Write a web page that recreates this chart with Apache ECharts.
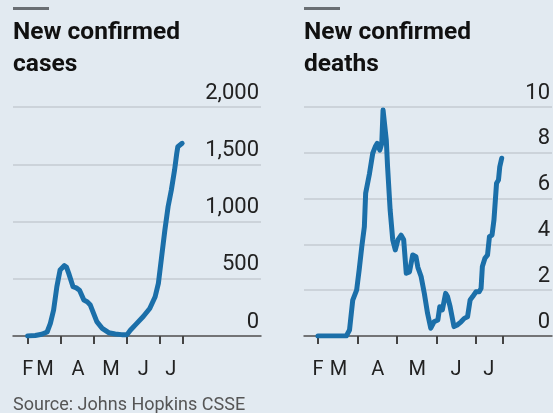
<!DOCTYPE html>
<html>
<head>
<meta charset="utf-8">
<script src="https://cdn.jsdelivr.net/npm/echarts@6/dist/echarts.min.js"></script>
<style>
html,body{margin:0;padding:0;background:#e2eaf1;}
#chart{width:553px;height:413px;}
</style>
</head>
<body>
<div id="chart"></div>
<script>
// Days since 1 March
const casesDays = [0,7,13,18,21,24,27,30,34,36,38,42,45,48,52,55,58,61,64,69,75,81,87,92,95,101,107,113,118,121,124,127,130,133,136,138,139,143];
const casesValues = [0,5,15,35,110,227,430,576,615,600,547,430,420,400,314,300,270,198,125,67,29,17,12,12,50,110,170,240,343,460,692,925,1130,1275,1450,1595,1653,1683];
const deathsDays = [0,22,24.5,27,30,32,34,36,37,40,42.5,44.5,46,48,49.5,50.5,53,54,56,58,60,62,64.5,66.5,68.5,71,73.5,76,77.5,80,82.5,85,87.5,90,93,94.5,96.5,99,100.5,102.5,104,105.5,108,111,113.5,116,118,120,122.5,125,126.5,127.5,129.5,131.5,133,135,136.5,138.5,140,141,142.5];
const deathsValues = [0,0,0.26,1.57,2.0,2.9,3.9,4.77,6.23,7.1,7.98,8.27,8.41,8.12,8.4,9.87,8.56,7.4,5.5,4.2,3.76,4.2,4.4,4.2,2.74,2.8,3.54,3.46,3.0,2.6,1.86,0.99,0.34,0.62,0.7,1.28,1.14,1.86,1.72,1.28,1.28,0.41,0.48,0.62,0.77,0.84,1.57,1.72,1.93,1.93,2.08,3.03,3.39,3.54,4.34,4.41,5.07,6.67,6.81,7.39,7.76];
const monthTickDays = [0,31,61,92,122,143.5];
const monthLabelDays = [0,16,46.5,77,107,132.5];
const monthLabels = ['F','M','A','M','J','J'];
const titles = ['New confirmed\ncases','New confirmed\ndeaths'];
const sourceText = 'Source: Johns Hopkins CSSE';

const FONT = 'Roboto';
const BLUE = '#1b6fa9';
const chart = echarts.init(document.getElementById('chart'), null, {renderer:'canvas'});

function zip(a,b){return a.map((d,i)=>[d,b[i]]);}
function xAxisFor(idx,min,max){
  return {
    type:'value', gridIndex:idx, min:min, max:max,
    axisLine:{show:true,lineStyle:{color:'#555',width:1.5}},
    axisTick:{show:true,customValues:monthTickDays,length:8,lineStyle:{color:'#444',width:2}},
    axisLabel:{show:true,customValues:monthLabelDays,margin:24,
      fontFamily:FONT,fontSize:20,color:'#222',
      formatter:v=>{const i=monthLabelDays.indexOf(v);return i>=0?monthLabels[i]:'';}},
    splitLine:{show:false}
  };
}
function yAxisFor(idx,max,interval,fmt){
  return {
    type:'value', gridIndex:idx, min:0, max:max, interval:interval, position:'right',
    axisLine:{show:false}, axisTick:{show:false},
    axisLabel:{inside:true,margin:2,verticalAlign:'bottom',lineHeight:22,padding:[0,0,3,0],
      fontFamily:FONT,fontSize:22,color:'#222',formatter:fmt},
    splitLine:{show:true,lineStyle:{color:'#c4cbd2',width:1.5}}
  };
}

chart.setOption({
  backgroundColor:'#e2eaf1',
  animation:false,
  title:[
    {text:titles[0],left:13,top:17,padding:0,textStyle:{fontFamily:FONT,fontSize:24.5,fontWeight:'bold',color:'#111',lineHeight:32}},
    {text:titles[1],left:304,top:17,padding:0,textStyle:{fontFamily:FONT,fontSize:24.5,fontWeight:'bold',color:'#111',lineHeight:32}},
    {text:sourceText,left:13,top:393,padding:0,textStyle:{fontFamily:FONT,fontSize:18,fontWeight:'normal',color:'#555',lineHeight:24}}
  ],
  graphic:[
    {type:'rect',shape:{x:13,y:7,width:36,height:3},style:{fill:'#6a6f74'}},
    {type:'rect',shape:{x:304,y:7,width:36,height:3},style:{fill:'#6a6f74'}}
  ],
  grid:[
    {left:13,right:292,top:107,bottom:77,containLabel:false},
    {left:304,right:0,top:107,bottom:77,containLabel:false}
  ],
  xAxis:[xAxisFor(0,-13.6,216),xAxisFor(1,-10.8,181.5)],
  yAxis:[
    yAxisFor(0,2000,500,v=>v.toLocaleString('en-US')),
    yAxisFor(1,10,2,v=>String(v))
  ],
  series:[
    {type:'line',xAxisIndex:0,yAxisIndex:0,data:zip(casesDays,casesValues),showSymbol:false,
      lineStyle:{color:BLUE,width:5,cap:'round',join:'round'},z:5},
    {type:'line',xAxisIndex:1,yAxisIndex:1,data:zip(deathsDays,deathsValues),showSymbol:false,
      lineStyle:{color:BLUE,width:5,cap:'round',join:'round'},z:5}
  ]
});
</script>
</body>
</html>
